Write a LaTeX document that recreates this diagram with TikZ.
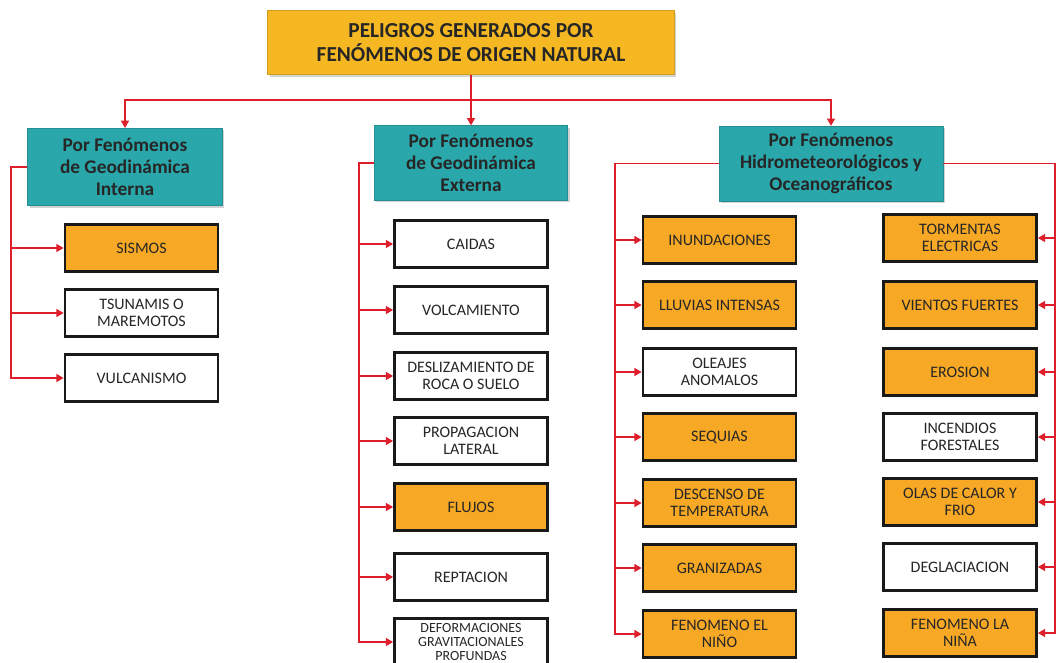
\documentclass[tikz,border=0pt]{standalone}
\usepackage{fontspec}
\setmainfont{Carlito}
\usetikzlibrary{arrows.meta,shadows}
\definecolor{tituloc}{RGB}{246,184,34}
\definecolor{grupoc}{RGB}{42,167,170}
\definecolor{peligroc}{RGB}{247,168,36}
\definecolor{lineac}{RGB}{222,30,42}
\tikzset{every picture/.style={line width=0.75pt}}
\tikzset{
  titulo/.style={draw=tituloc!85!black, line width=0.5pt, fill=tituloc, minimum width=305pt, minimum height=48pt,
    align=center, text=black!85, font=\fontsize{16}{18.5}\selectfont\bfseries,
    drop shadow={shadow xshift=1.5pt, shadow yshift=-1.5pt, opacity=0.35}},
  grupo/.style={draw=grupoc!85!black, line width=0.5pt, fill=grupoc, minimum height=56pt, inner sep=1pt,
    align=center, text=black!85, font=\fontsize{14.5}{16.5}\selectfont\bfseries,
    drop shadow={shadow xshift=1.5pt, shadow yshift=-1.5pt, opacity=0.35}},
  peligro/.style={draw=black!90, line width=1.8pt, fill=peligroc, minimum width=115pt, minimum height=35pt,
    inner sep=1pt, align=center, text=black!85, font=\fontsize{12}{13}\selectfont},
  blanco/.style={peligro, fill=white},
  enlace/.style={draw=lineac, line width=1.1pt, -{Triangle[length=5.5pt,width=6pt]}},
}

\begin{document}
\begin{tikzpicture}[x=0.75pt,y=0.75pt,yscale=-1,xscale=1]
\useasboundingbox (0,0) rectangle (1057,662);
\clip (0,0) rectangle (1057,662);

% Title
\node [titulo] (titulo) at (471,42.5) {PELIGROS GENERADOS POR\\FENÓMENOS DE ORIGEN NATURAL};

% Groups
\node [grupo, minimum width=146pt, minimum height=58pt] (interna) at (125,167) {Por Fenómenos\\de Geodinámica\\Interna};
\node [grupo, minimum width=145pt] (externa) at (471,163) {Por Fenómenos\\de Geodinámica\\Externa};
\node [grupo, minimum width=168pt] (hidro) at (831,163.5) {Por Fenómenos\\Hidrometeorológicos y\\Oceanográficos};

% Geodinamica interna
\node [peligro] (sismos) at (141.5,248) {SISMOS};
\node [blanco] (tsunamis) at (141.5,313) {TSUNAMIS O\\MAREMOTOS};
\node [blanco] (vulcanismo) at (141.5,378) {VULCANISMO};

% Geodinamica externa
\node [blanco] (caidas) at (471,244) {CAIDAS};
\node [blanco] (volcamiento) at (471,310) {VOLCAMIENTO};
\node [blanco] (deslizamiento) at (471,376) {DESLIZAMIENTO DE\\ROCA O SUELO};
\node [blanco] (propagacion) at (471,441) {PROPAGACION\\LATERAL};
\node [peligro] (flujos) at (471,507) {FLUJOS};
\node [blanco] (reptacion) at (471,577) {REPTACION};
\node [blanco, font=\fontsize{10.5}{10.5}\selectfont] (deformaciones) at (471,642) {DEFORMACIONES\\GRAVITACIONALES\\PROFUNDAS};

% Hidrometeorologicos, left
\node [peligro] (inundaciones) at (719.5,240) {INUNDACIONES};
\node [peligro] (lluvias) at (719.5,305) {LLUVIAS INTENSAS};
\node [blanco] (oleajes) at (719.5,372) {OLEAJES\\ANOMALOS};
\node [peligro] (sequias) at (719.5,437) {SEQUIAS};
\node [peligro] (descenso) at (719.5,503) {DESCENSO DE\\TEMPERATURA};
\node [peligro] (granizadas) at (719.5,568) {GRANIZADAS};
\node [peligro] (nino) at (719.5,634) {FENOMENO EL\\NIÑO};

% Hidrometeorologicos, right
\node [peligro] (tormentas) at (960,238) {TORMENTAS\\ELECTRICAS};
\node [peligro] (vientos) at (960,305) {VIENTOS FUERTES};
\node [peligro] (erosion) at (960,372) {EROSION};
\node [blanco] (incendios) at (960,437) {INCENDIOS\\FORESTALES};
\node [peligro] (olas) at (960,502) {OLAS DE CALOR Y\\FRIO};
\node [blanco] (deglaciacion) at (960,567) {DEGLACIACION};
\node [peligro] (nina) at (960,633) {FENOMENO LA\\NIÑA};

% Connectors
\coordinate (barra) at (471,100);
\foreach \g in {interna,externa,hidro}
  \draw [enlace] (titulo.south) -- (barra) -| (\g.north);

\coordinate (t1) at (11,167);
\foreach \b in {sismos,tsunamis,vulcanismo}
  \draw [enlace] (interna.west) -- (t1) |- (\b.west);

\coordinate (t2) at (359,163);
\foreach \b in {caidas,volcamiento,deslizamiento,propagacion,flujos,reptacion,deformaciones}
  \draw [enlace] (externa.west) -- (t2) |- (\b.west);

\coordinate (t3) at (615,163.5);
\foreach \b in {inundaciones,lluvias,oleajes,sequias,descenso,granizadas,nino}
  \draw [enlace] (hidro.west) -- (t3) |- (\b.west);

\coordinate (t4) at (1055,163.5);
\foreach \b in {tormentas,vientos,erosion,incendios,olas,deglaciacion,nina}
  \draw [enlace] (hidro.east) -- (t4) |- (\b.east);

\end{tikzpicture}
\end{document}
